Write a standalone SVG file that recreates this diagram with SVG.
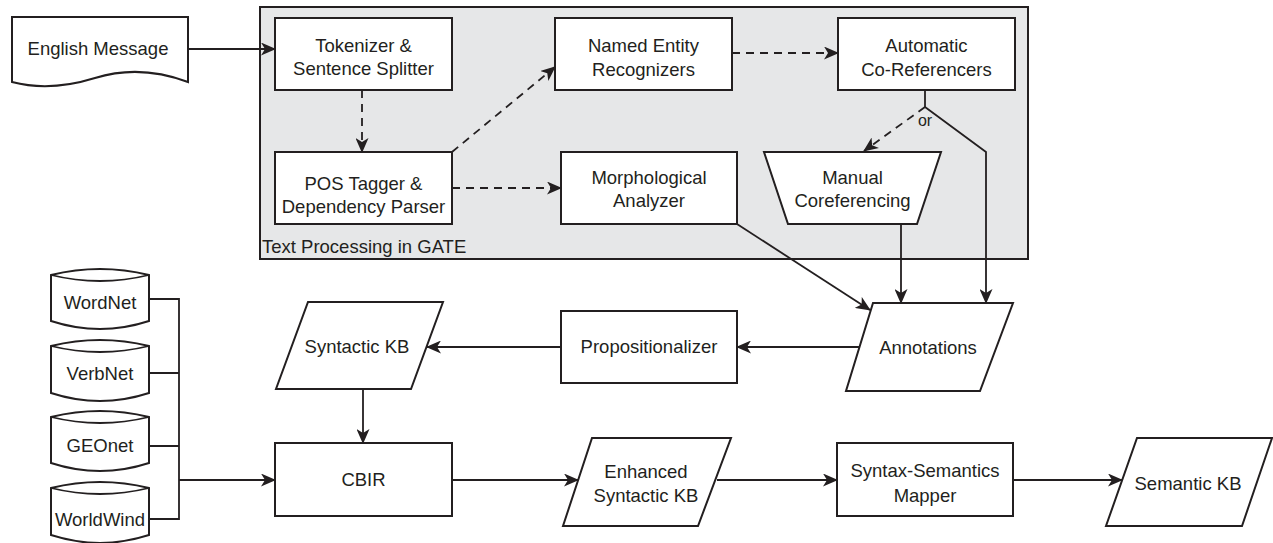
<svg xmlns="http://www.w3.org/2000/svg" width="1273" height="543" viewBox="0 0 1273 543">
<defs>
<marker id="ah" markerUnits="userSpaceOnUse" markerWidth="15" markerHeight="13" viewBox="0 0 15 13" refX="14" refY="6.5" orient="auto">
<path d="M0,0 L15,6.5 L0,13 L4,6.5 Z" fill="#231f20"/>
</marker>
<style>
.b{fill:#fff;stroke:#231f20;stroke-width:2}
.t{font-family:"Liberation Sans",Arial,sans-serif;font-size:18.5px;fill:#231f20;text-anchor:middle}
.c{fill:none;stroke:#231f20;stroke-width:1.8}
.d{stroke-dasharray:8 6}
.a{marker-end:url(#ah)}
</style>
</defs>
<rect width="1273" height="543" fill="#fff"/>

<g id="gate">
<rect x="260" y="7" width="768" height="252" fill="#e6e7e8" stroke="#231f20" stroke-width="2"/>
<text class="t" x="262" y="253" style="text-anchor:start">Text Processing in GATE</text>
</g>

<g id="english">
<path class="b" d="M12,17 L188,17 L188,82 Q140,64 95,78 Q50,92 12,82 Z"/>
<text class="t" x="98" y="55">English Message</text>
</g>

<g id="tokenizer">
<rect class="b" x="275" y="18" width="177" height="72"/>
<text class="t" x="363.5" y="52">Tokenizer &amp;</text>
<text class="t" x="363.5" y="75">Sentence Splitter</text>
</g>

<g id="ner">
<rect class="b" x="555" y="18" width="177" height="72"/>
<text class="t" x="643.5" y="52">Named Entity</text>
<text class="t" x="643.5" y="76">Recognizers</text>
</g>

<g id="auto">
<rect class="b" x="838" y="18" width="177" height="72"/>
<text class="t" x="926.5" y="52">Automatic</text>
<text class="t" x="926.5" y="76">Co-Referencers</text>
</g>

<g id="pos">
<rect class="b" x="275" y="152" width="177" height="72"/>
<text class="t" x="363.5" y="190">POS Tagger &amp;</text>
<text class="t" x="363.5" y="213">Dependency Parser</text>
</g>

<g id="morph">
<rect class="b" x="561" y="152" width="176" height="72"/>
<text class="t" x="649" y="184">Morphological</text>
<text class="t" x="649" y="207">Analyzer</text>
</g>

<g id="manual">
<path class="b" d="M764,152 L941,152 L917,224 L788,224 Z"/>
<text class="t" x="852.5" y="184">Manual</text>
<text class="t" x="852.5" y="207">Coreferencing</text>
</g>

<g id="annotations">
<path class="b" d="M873,303 L1013,303 L980,391 L846,391 Z"/>
<text class="t" x="928" y="354">Annotations</text>
</g>

<g id="propositionalizer">
<rect class="b" x="561" y="311" width="176" height="72"/>
<text class="t" x="649" y="353">Propositionalizer</text>
</g>

<g id="syntactickb">
<path class="b" d="M308,302 L443,302 L411,389 L276,389 Z"/>
<text class="t" x="357" y="353">Syntactic KB</text>
</g>

<g id="cbir">
<rect class="b" x="275" y="443" width="177" height="73"/>
<text class="t" x="363.5" y="486">CBIR</text>
</g>

<g id="enhanced">
<path class="b" d="M592,438 L731,438 L698,526 L563,526 Z"/>
<text class="t" x="646" y="478">Enhanced</text>
<text class="t" x="646" y="502">Syntactic KB</text>
</g>

<g id="mapper">
<rect class="b" x="837" y="443" width="176" height="73"/>
<text class="t" x="925" y="477">Syntax-Semantics</text>
<text class="t" x="925" y="502">Mapper</text>
</g>

<g id="semantickb">
<path class="b" d="M1137,438 L1272,438 L1242,526 L1106,526 Z"/>
<text class="t" x="1188" y="490">Semantic KB</text>
</g>

<g id="wordnet">
<path class="b" d="M51,275 Q100,263 149,275 L149,321 Q100,337 51,321 Z"/>
<path class="c" d="M51,275 Q100,287 149,275" stroke-width="1.3"/>
<text class="t" x="100" y="309">WordNet</text>
</g>
<g id="verbnet">
<path class="b" d="M51,346 Q100,334 149,346 L149,393 Q100,409 51,393 Z"/>
<path class="c" d="M51,346 Q100,358 149,346" stroke-width="1.3"/>
<text class="t" x="100" y="380">VerbNet</text>
</g>
<g id="geonet">
<path class="b" d="M51,417 Q100,405 149,417 L149,463 Q100,479 51,463 Z"/>
<path class="c" d="M51,417 Q100,429 149,417" stroke-width="1.3"/>
<text class="t" x="100" y="452">GEOnet</text>
</g>
<g id="worldwind">
<path class="b" d="M51,488 Q100,476 149,488 L149,535 Q100,551 51,535 Z"/>
<path class="c" d="M51,488 Q100,500 149,488" stroke-width="1.3"/>
<text class="t" x="100" y="526">WorldWind</text>
</g>

<g id="connectors">
<path class="c a" d="M188,49 L275,49"/>
<path class="c d a" d="M362,90 L362,152"/>
<path class="c d a" d="M452,152 L555,67"/>
<path class="c d a" d="M452,188 L561,188"/>
<path class="c d a" d="M732,53 L838,53"/>
<path class="c" d="M925,90 L925,107"/>
<path class="c d a" d="M925,107 L864,151"/>
<path class="c a" d="M925,107 L986,152 L986,303"/>
<path class="c a" d="M901,224 L901,303"/>
<path class="c a" d="M737,224 L870,310"/>
<path class="c a" d="M860,347 L737,347"/>
<path class="c a" d="M561,347 L427,347"/>
<path class="c a" d="M363,389 L363,443"/>
<path class="c a" d="M452,480 L578,480"/>
<path class="c a" d="M717,480 L837,480"/>
<path class="c a" d="M1013,480 L1122,480"/>
<path class="c" d="M149,299 L179,299 L179,519 L149,519 M149,373 L179,373 M149,446 L179,446"/>
<path class="c a" d="M179,480 L275,480"/>
<text x="925" y="126" style="font-family:'Liberation Sans',Arial,sans-serif;font-size:16px;fill:#231f20;text-anchor:middle">or</text>
</g>
</svg>
